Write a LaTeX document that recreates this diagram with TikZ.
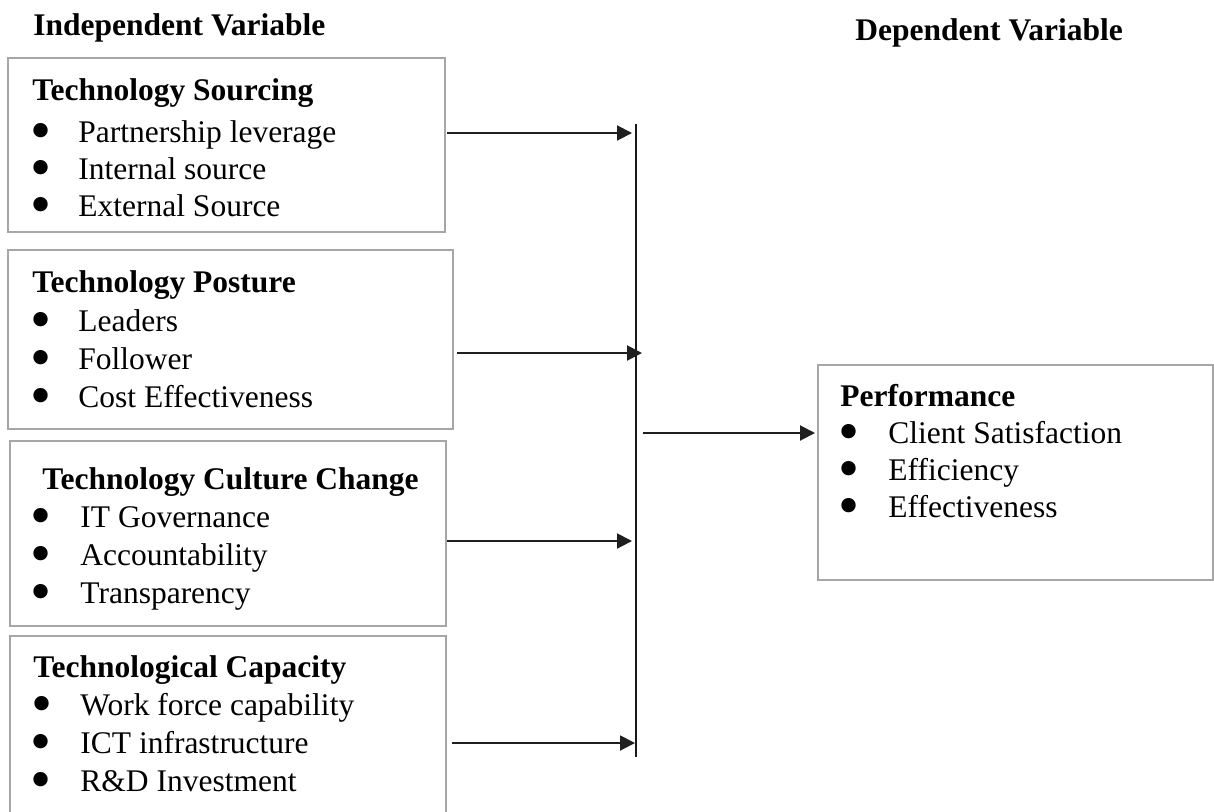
\documentclass[tikz,border=0pt]{standalone}
\usepackage{fontspec}
\setmainfont{Liberation Serif}
\usetikzlibrary{arrows.meta}
\newcommand{\mybul}[1][23pt]{\makebox[#1][l]{\hspace{-1.2pt}\smash{\raisebox{-4.4pt}{\fontsize{30}{30}\selectfont •}}}}
\tikzset{
  box/.style={draw=black!35, line width=1.2pt, rectangle, inner sep=0pt},
  content/.style={anchor=base west, inner sep=0pt, font=\fontsize{15.75}{19}\selectfont},
  header/.style={anchor=base west, inner sep=0pt, font=\fontsize{15.75}{19}\selectfont\bfseries},
  conn/.style={-{Triangle[length=7.5pt,width=7.5pt]}, line width=1pt, black!88},
  bus/.style={line width=1pt, black!90}
}
\begin{document}
\begin{tikzpicture}[x=0.5pt,y=-0.5pt]
\useasboundingbox (0,0) rectangle (1214,811);
% headers
\node[header] (hind) at (33,35) {Independent Variable};
\node[header] (hdep) at (855,40) {Dependent Variable};
% boxes
\node[box, minimum width=218.5pt, minimum height=87pt] (b1) at (226.5,145) {};
\node[box, minimum width=222.5pt, minimum height=89.5pt] (b2) at (230.5,339.5) {};
\node[box, minimum width=218pt, minimum height=92.5pt] (b3) at (228,533.5) {};
\node[box, minimum width=218pt, minimum height=91pt] (b4) at (228,727) {};
\node[box, minimum width=197.5pt, minimum height=107.5pt] (perf) at (1015.5,472.5) {};
% contents
\node[content] (t1) at (32,100) {\begin{tabular}[t]{@{}l@{}l@{}}
\multicolumn{2}{@{}l@{}}{\textbf{Technology Sourcing}}\\[2pt]
\mybul & Partnership leverage\\[-0.5pt]
\mybul & Internal source\\[-0.5pt]
\mybul & External Source
\end{tabular}};
\node[content] (t2) at (32,292) {\begin{tabular}[t]{@{}l@{}l@{}}
\multicolumn{2}{@{}l@{}}{\textbf{Technology Posture}}\\[0.5pt]
\mybul & Leaders\\
\mybul & Follower\\
\mybul & Cost Effectiveness
\end{tabular}};
\node[content] (t3) at (33,489) {\begin{tabular}[t]{@{}l@{}l@{}}
\multicolumn{2}{@{}l@{}}{\hspace{4.5pt}\textbf{Technology Culture Change}}\\
\mybul[23.5pt] & IT Governance\\
\mybul[23.5pt] & Accountability\\
\mybul[23.5pt] & Transparency
\end{tabular}};
\node[content] (t4) at (33,677) {\begin{tabular}[t]{@{}l@{}l@{}}
\multicolumn{2}{@{}l@{}}{\textbf{Technological Capacity}}\\
\mybul[23.5pt] & Work force capability\\
\mybul[23.5pt] & ICT infrastructure\\
\mybul[23.5pt] & R\&D Investment
\end{tabular}};
\node[content] (tp) at (840,406) {\begin{tabular}[t]{@{}l@{}l@{}}
\multicolumn{2}{@{}l@{}}{\textbf{Performance}}\\[-0.5pt]
\mybul[24pt] & Client Satisfaction\\[-0.5pt]
\mybul[24pt] & Efficiency\\[-0.5pt]
\mybul[24pt] & Effectiveness
\end{tabular}};
% bus line
\coordinate (vtop) at (636,124);
\coordinate (vbot) at (636,757);
\draw[bus] (vtop) -- (vbot);
% connector end points
\coordinate (s1) at (447,133);  \coordinate (e1) at (632,133);
\coordinate (s2) at (457,353);  \coordinate (e2) at (642,353);
\coordinate (s3) at (447,541);  \coordinate (e3) at (632,541);
\coordinate (s4) at (452,743);  \coordinate (e4) at (635,743);
\coordinate (s5) at (643,433);  \coordinate (e5) at (815,433);
\draw[conn] (s1) -- (e1);
\draw[conn] (s2) -- (e2);
\draw[conn] (s3) -- (e3);
\draw[conn] (s4) -- (e4);
\draw[conn] (s5) -- (e5);
\end{tikzpicture}
\end{document}
